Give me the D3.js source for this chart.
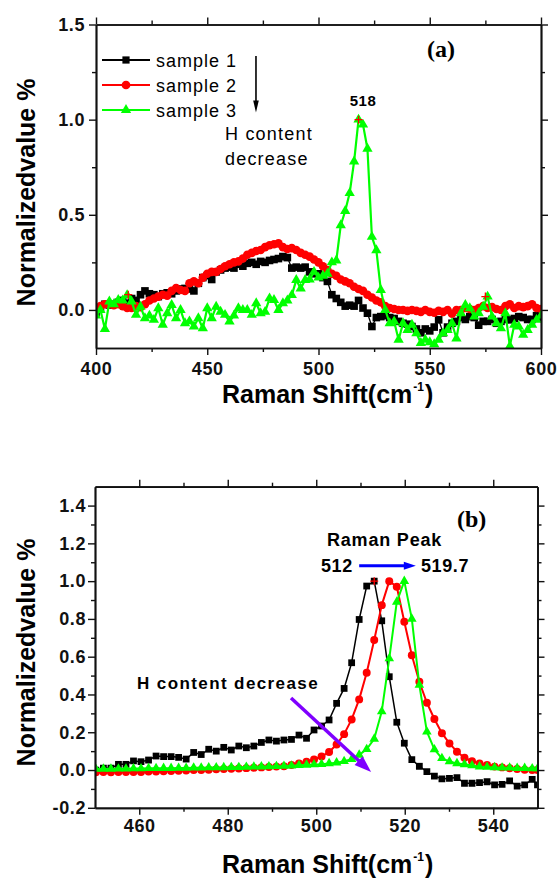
<!DOCTYPE html>
<html><head><meta charset="utf-8">
<script src="https://cdn.jsdelivr.net/npm/d3@7"></script>
<style>
html,body{margin:0;padding:0;background:#fff;}
svg{display:block;}
</style></head><body>
<svg id="chart" width="558" height="878"></svg>
<script>
// ---------------- DATA ----------------
const seriesNames = ["sample 1", "sample 2", "sample 3"];

// Panel (a)
const shiftA = [400,402,404,406,408,410,412,414,416,418,420,422,424,426,428,430,432,434,436,438,440,442,444,446,448,450,452,454,456,458,460,462,464,466,468,470,472,474,476,478,480,482,484,486,488,490,492,494,496,498,500,502,504,506,508,510,512,514,516,518,520,522,524,526,528,530,532,534,536,538,540,542,544,546,548,550,552,554,556,558,560,562,564,566,568,570,572,574,576,578,580,582,584,586,588,590,592,594,596,598,600];
const sample1A = [-0.02,0.01,0.03,0.026,0.03,0.04,0.05,0.035,0.06,0.05,0.08,0.1,0.085,0.08,0.07,0.085,0.09,0.085,0.1,0.11,0.113,0.11,0.1,0.14,0.17,0.18,0.16,0.2,0.21,0.22,0.225,0.22,0.24,0.23,0.245,0.25,0.24,0.255,0.25,0.26,0.265,0.27,0.28,0.275,0.22,0.225,0.22,0.225,0.2,0.19,0.19,0.17,0.15,0.08,0.06,0.04,0.02,0.025,0.02,0.05,0.01,-0.017,-0.087,-0.04,-0.035,-0.03,-0.04,-0.045,-0.06,-0.07,-0.075,-0.087,-0.1,-0.12,-0.1,-0.11,-0.09,-0.052,-0.12,-0.09,-0.07,-0.06,-0.04,-0.05,-0.035,-0.04,-0.08,-0.06,-0.06,-0.05,-0.07,-0.06,-0.05,-0.052,-0.045,-0.035,-0.04,-0.05,-0.05,-0.03,-0.04];
const sample2A = [0.01,0.02,0.03,0.03,0.025,0.03,0.02,0.01,0.01,0.02,0.015,0.03,0.05,0.06,0.07,0.08,0.075,0.1,0.115,0.105,0.1,0.14,0.15,0.14,0.17,0.19,0.2,0.2,0.215,0.23,0.24,0.25,0.255,0.27,0.29,0.3,0.31,0.315,0.33,0.34,0.345,0.35,0.33,0.32,0.325,0.315,0.3,0.29,0.28,0.265,0.25,0.23,0.21,0.19,0.18,0.16,0.15,0.14,0.122,0.11,0.1,0.08,0.065,0.05,0.04,0.02,0.01,0.005,0.0,0.0,-0.005,0.0,-0.005,-0.01,0.0,-0.01,-0.015,-0.005,-0.01,0.0,-0.02,0.0,0.0,0.01,0.005,0.0,0.01,0.02,0.01,0.015,0.005,0.0,0.02,0.03,0.01,0.02,0.015,0.02,0.03,0.01,0.005];
const sample3A = [-0.03,0.0,-0.1,0.044,0.03,0.052,0.05,0.078,0.044,-0.026,0.017,-0.044,-0.03,-0.052,0.009,-0.078,-0.017,0.026,-0.044,0.0,-0.07,-0.06,-0.087,-0.044,-0.096,0.009,-0.044,0.017,-0.009,-0.026,-0.061,-0.03,0.009,0.0,0.0,-0.026,0.035,-0.017,-0.01,0.061,0.052,0.0,0.035,0.05,0.078,0.157,0.113,0.157,0.16,0.2,0.17,0.18,0.19,0.25,0.26,0.445,0.52,0.614,0.78,1.0,0.974,0.847,0.384,0.314,0.105,0.0,-0.07,-0.061,-0.157,-0.07,-0.105,-0.078,-0.122,-0.174,-0.157,-0.17,-0.18,-0.157,-0.122,-0.105,-0.07,-0.15,-0.017,0.026,0.009,-0.035,-0.017,0.017,0.07,-0.035,-0.07,-0.096,-0.017,-0.19,-0.078,-0.087,-0.131,-0.105,-0.078,-0.052,-0.03];
// red "+" data-reader marks in panel (a): [shift, value]
const readerA = [[518, 1.0], [414.5, 0.08], [575, 0.07]];

// Panel (b)
const shiftB = [450.2,451.9,453.6,455.3,457.0,458.7,460.4,462.1,463.8,465.5,467.2,468.9,470.6,472.3,474.0,475.7,477.4,479.1,480.8,482.5,484.2,485.9,487.6,489.3,491.0,492.7,494.4,496.1,497.8,499.5,501.2,502.9,504.6,506.3,508.0,509.7,511.4,513.1,514.8,516.5,518.2,519.9,521.6,523.3,525.0,526.7,528.4,530.1,531.8,533.5,535.2,536.9,538.6,540.3,542.0,543.7,545.4,547.1,548.8,550.0];
const sample1B = [0.0,0.01,0.01,0.03,0.03,0.048,0.044,0.053,0.074,0.071,0.071,0.067,0.058,0.093,0.082,0.11,0.10,0.12,0.106,0.127,0.118,0.127,0.146,0.159,0.153,0.159,0.162,0.185,0.168,0.212,0.233,0.265,0.353,0.432,0.568,0.797,0.974,1.0,0.79,0.494,0.253,0.142,0.055,0.02,-0.009,-0.032,-0.047,-0.044,-0.04,-0.07,-0.07,-0.067,-0.062,-0.079,-0.076,-0.058,-0.085,-0.079,-0.049,-0.079];
const sample2B = [-0.012,-0.01,-0.012,-0.01,-0.01,-0.01,-0.01,-0.008,-0.008,-0.006,-0.005,-0.004,-0.002,0.0,0.0,0.002,0.004,0.005,0.007,0.008,0.01,0.012,0.014,0.016,0.018,0.02,0.026,0.035,0.044,0.056,0.072,0.095,0.135,0.19,0.268,0.374,0.515,0.688,0.873,1.0,0.97,0.785,0.608,0.467,0.356,0.27,0.195,0.141,0.097,0.065,0.047,0.035,0.026,0.018,0.014,0.009,0.005,0.002,0.0,0.0];
const sample3B = [0.005,0.006,0.006,0.007,0.007,0.008,0.008,0.009,0.009,0.01,0.01,0.011,0.011,0.012,0.012,0.013,0.013,0.014,0.015,0.015,0.016,0.017,0.018,0.019,0.02,0.021,0.023,0.025,0.027,0.029,0.031,0.035,0.039,0.046,0.057,0.08,0.11,0.165,0.31,0.59,0.89,1.0,0.8,0.45,0.203,0.109,0.062,0.045,0.035,0.03,0.024,0.018,0.016,0.014,0.012,0.012,0.01,0.01,0.008,0.008];
const readerB = [[513.1, 1.0]];

// Ticks
const ticksAX = [400,450,500,550,600];
const labelsAX = ["400","450","500","550","600"];
const minorAX = [425,475,525,575];
const ticksAY = [0.0,0.5,1.0,1.5];
const labelsAY = ["0.0","0.5","1.0","1.5"];
const minorAY = [0.25,0.75,1.25];
const ticksBX = [460,480,500,520,540];
const labelsBX = ["460","480","500","520","540"];
const minorBX = [470,490,510,530];
const ticksBY = [-0.2,0.0,0.2,0.4,0.6,0.8,1.0,1.2,1.4];
const labelsBY = ["-0.2","0.0","0.2","0.4","0.6","0.8","1.0","1.2","1.4"];
const minorBY = [-0.1,0.1,0.3,0.5,0.7,0.9,1.1,1.3];

// ---------------- STYLE ----------------
const colors = ["#000000", "#ff0000", "#00ff00"];
const FONT = "'Liberation Sans', Arial, Helvetica, sans-serif";
const SERIF = "'Liberation Serif', 'Times New Roman', serif";

const svg = d3.select("#chart");

const xA = d3.scaleLinear().domain([400, 600]).range([96, 541]);
const yA = d3.scaleLinear().domain([-0.2, 1.5]).range([348, 24.5]);
const xB = d3.scaleLinear().domain([450, 550]).range([95, 537.5]);
const yB = d3.scaleLinear().domain([-0.2, 1.5]).range([807.8, 486.7]);

function styleAxis(g) {
  g.select(".domain").attr("stroke", "#111").attr("stroke-width", 1.7);
  g.selectAll(".tick line").attr("stroke", "#111").attr("stroke-width", 1.4);
  g.selectAll("text").attr("font-family", FONT).attr("font-weight", "bold")
    .attr("font-size", 18).attr("fill", "#111").attr("letter-spacing", 0.6);
}

function drawAxes(x, y, t, padX, padY) {
  const yb = y.range()[0], yt = y.range()[1];
  const xl = x.range()[0], xr = x.range()[1];
  svg.append("g").attr("transform", `translate(0,${yb})`)
    .call(d3.axisBottom(x).tickValues(t.minX).tickSize(4).tickSizeOuter(0).tickFormat(""))
    .call(styleAxis);
  svg.append("g").attr("transform", `translate(0,${yb})`)
    .call(d3.axisBottom(x).tickValues(t.majX).tickSize(7).tickSizeOuter(0).tickPadding(padX)
      .tickFormat((d, i) => t.labX[i]))
    .call(styleAxis);
  svg.append("g").attr("transform", `translate(0,${yt})`)
    .call(d3.axisTop(x).tickValues(t.minX).tickSize(4).tickSizeOuter(0).tickFormat(""))
    .call(styleAxis);
  svg.append("g").attr("transform", `translate(0,${yt})`)
    .call(d3.axisTop(x).tickValues(t.majX).tickSize(7).tickSizeOuter(0).tickFormat(""))
    .call(styleAxis);
  svg.append("g").attr("transform", `translate(${xl},0)`)
    .call(d3.axisLeft(y).tickValues(t.minY).tickSize(4).tickSizeOuter(0).tickFormat(""))
    .call(styleAxis);
  svg.append("g").attr("transform", `translate(${xl},0)`)
    .call(d3.axisLeft(y).tickValues(t.majY).tickSize(7).tickSizeOuter(0).tickPadding(padY)
      .tickFormat((d, i) => t.labY[i]))
    .call(styleAxis);
  svg.append("g").attr("transform", `translate(${xr},0)`)
    .call(d3.axisRight(y).tickValues(t.minY).tickSize(4).tickSizeOuter(0).tickFormat(""))
    .call(styleAxis);
  svg.append("g").attr("transform", `translate(${xr},0)`)
    .call(d3.axisRight(y).tickValues(t.majY).tickSize(7).tickSizeOuter(0).tickFormat(""))
    .call(styleAxis);
}

function drawSeries(x, y, xs, series, clipId) {
  const [x0, x1] = x.range();
  const [y0, y1] = y.range();
  svg.append("clipPath").attr("id", clipId).append("rect")
    .attr("x", x0).attr("y", y1).attr("width", x1 - x0).attr("height", y0 - y1);
  const g = svg.append("g").attr("clip-path", `url(#${clipId})`);
  series.forEach(s => {
    const pts = xs.map((v, i) => [v, s.vals[i]]);
    const line = d3.line().x(d => x(d[0])).y(d => y(d[1]));
    g.append("path").datum(pts).attr("d", line).attr("fill", "none")
      .attr("stroke", s.color).attr("stroke-width", s.lw).attr("stroke-linejoin", "round");
    const sym = d3.symbol().type(s.type).size(s.size);
    g.selectAll(null).data(pts).join("path")
      .attr("transform", d => `translate(${x(d[0])},${y(d[1])})`)
      .attr("d", sym).attr("fill", s.color);
  });
}

function drawReader(x, y, pts) {
  pts.forEach(p => {
    const cx = x(p[0]), cy = y(p[1]);
    svg.append("path").attr("d", `M${cx-4},${cy}H${cx+4}M${cx},${cy-4}V${cy+4}`)
      .attr("stroke", "#ff0000").attr("stroke-width", 1.3).attr("fill", "none");
  });
}

function arrow(x1, y1, x2, y2, color, w, headLen, headHalf) {
  const dx = x2 - x1, dy = y2 - y1, L = Math.hypot(dx, dy);
  const ux = dx / L, uy = dy / L, nx = -uy, ny = ux;
  const bx = x2 - ux * headLen, by = y2 - uy * headLen;
  svg.append("line").attr("x1", x1).attr("y1", y1).attr("x2", bx + ux).attr("y2", by + uy)
    .attr("stroke", color).attr("stroke-width", w);
  svg.append("path")
    .attr("d", `M${x2},${y2}L${bx + nx * headHalf},${by + ny * headHalf}L${bx - nx * headHalf},${by - ny * headHalf}Z`)
    .attr("fill", color);
}

function txt(x, y, s, size, opts = {}) {
  return svg.append("text").attr("x", x).attr("y", y).text(s)
    .attr("font-family", opts.family || FONT)
    .attr("font-weight", opts.weight || "normal")
    .attr("font-size", size)
    .attr("letter-spacing", opts.ls || 0)
    .attr("text-anchor", opts.anchor || "start")
    .attr("fill", opts.fill || "#000");
}

function xTitle(x, y) {
  const t = svg.append("text").attr("x", x).attr("y", y)
    .attr("font-family", FONT).attr("font-weight", "bold").attr("font-size", 25).attr("fill", "#000");
  t.append("tspan").text("Raman Shift(cm");
  t.append("tspan").text("-1").attr("font-size", 12).attr("dy", -12).attr("dx", 1);
  t.append("tspan").text(")").attr("dy", 12).attr("dx", 1);
}

function yTitle(cx, cy) {
  svg.append("text").attr("transform", `translate(${cx},${cy}) rotate(-90)`)
    .attr("text-anchor", "middle").attr("font-family", FONT).attr("font-weight", "bold")
    .attr("font-size", 25).attr("fill", "#000").text("Normalizedvalue %");
}

// ---------------- PANEL (a) ----------------
const symTypes = [d3.symbolSquare, d3.symbolCircle, d3.symbolTriangle];
drawSeries(xA, yA, shiftA, [
  {vals: sample1A, color: colors[0], type: symTypes[0], size: 58, lw: 1.3},
  {vals: sample2A, color: colors[1], type: symTypes[1], size: 58, lw: 1.6},
  {vals: sample3A, color: colors[2], type: symTypes[2], size: 46, lw: 2.2}
], "clipA");
drawReader(xA, yA, readerA);
drawAxes(xA, yA, {majX: ticksAX, labX: labelsAX, minX: minorAX, majY: ticksAY, labY: labelsAY, minY: minorAY}, 7, 4);

// legend
const legSize = [52, 60, 46];
seriesNames.forEach((n, i) => {
  const ly = 60 + 25 * i;
  svg.append("line").attr("x1", 102).attr("x2", 150).attr("y1", ly).attr("y2", ly)
    .attr("stroke", colors[i]).attr("stroke-width", 1.8);
  svg.append("path").attr("transform", `translate(126,${ly})`)
    .attr("d", d3.symbol().type(symTypes[i]).size(legSize[i])).attr("fill", colors[i]);
  txt(156, ly + 6.5, n, 18, {ls: 1});
});

// annotations (a)
arrow(xA(471.9), yA(1.335), xA(471.9), yA(1.037), "#000", 1.6, 12, 2.8);
txt(225, 140, "H content", 18, {ls: 1.2});
txt(225, 165, "decrease", 18, {ls: 1.2});
txt(427, 57, "(a)", 24, {family: SERIF, weight: "bold"});
txt(363, 106, "518", 15, {weight: "bold", anchor: "middle", ls: 0.5});

xTitle(222, 403);
yTitle(35, 192.5);

// ---------------- PANEL (b) ----------------
drawSeries(xB, yB, shiftB, [
  {vals: sample1B, color: colors[0], type: symTypes[0], size: 46, lw: 1.5},
  {vals: sample2B, color: colors[1], type: symTypes[1], size: 50, lw: 2},
  {vals: sample3B, color: colors[2], type: symTypes[2], size: 40, lw: 2}
], "clipB");
drawReader(xB, yB, readerB);
drawAxes(xB, yB, {majX: ticksBX, labX: labelsBX, minX: minorBX, majY: ticksBY, labY: labelsBY, minY: minorBY}, 4, 2);

txt(457, 527, "(b)", 24, {family: SERIF, weight: "bold"});
txt(327, 546, "Raman Peak", 18, {weight: "bold", ls: 0.8});
txt(321, 572, "512", 18, {weight: "bold", ls: 0.6});
txt(421, 572, "519.7", 18, {weight: "bold", ls: 0.6});
arrow(xB(509.7), yB(1.081), xB(522.5), yB(1.081), "#0000ff", 3, 12, 4);
txt(137, 689, "H content decrease", 17, {weight: "bold", ls: 1.4});
arrow(xB(494.3), yB(0.381), xB(512.4), yB(-0.011), "#7f00ff", 3.5, 17, 6);

xTitle(222, 873);
yTitle(35, 652.5);
</script>
</body></html>
